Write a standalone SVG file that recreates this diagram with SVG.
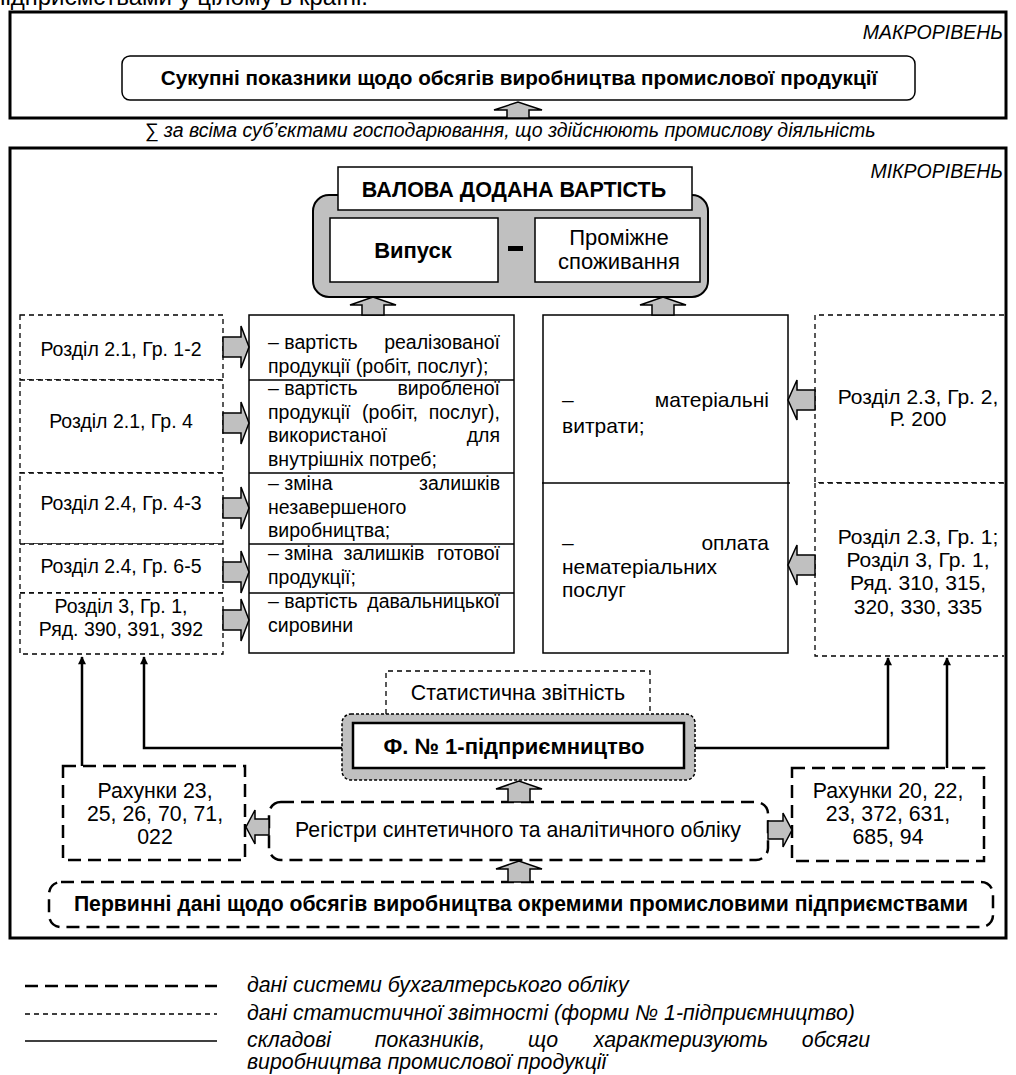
<svg xmlns="http://www.w3.org/2000/svg" width="1016" height="1075" viewBox="0 0 1016 1075">
<defs>
<style>
text{font-family:"Liberation Sans",Arial,sans-serif;font-size:19.5px;fill:#000}
.b{font-weight:bold}
.i{font-style:italic}
.c{text-anchor:middle}
.e{text-anchor:end}
.m{font-size:21px}
.l{font-size:21.3px}
.frame{fill:none;stroke:#000;stroke-width:3}
.box{fill:#fff;stroke:#000;stroke-width:1.5}
.stat{fill:#fff;stroke:#000;stroke-width:1.3;stroke-dasharray:5 4}
.statl{fill:none;stroke:#000;stroke-width:1.3;stroke-dasharray:5 4}
.acc{fill:#fff;stroke:#000;stroke-width:2.5;stroke-dasharray:13 7}
.garr{fill:#c0c0c0;stroke:#000;stroke-width:1.5}
.conn{fill:none;stroke:#000;stroke-width:2.5}
.ln{fill:none;stroke:#000;stroke-width:1.5}
</style>
<marker id="ah" viewBox="0 0 10 10" refX="9" refY="5" markerWidth="3.6" markerHeight="3.2" orient="auto" markerUnits="strokeWidth"><path d="M0,0 L10,5 L0,10 Z"/></marker>
</defs>

<text x="368" y="5" class="e" style="font-size:24px">підприємствами у цілому в країні.</text>

<g id="macro">
<rect class="frame" x="10" y="12" width="996" height="106"/>
<text x="1003" y="39" class="e i">МАКРОРІВЕНЬ</text>
</g>
<g id="total">
<rect class="box" x="122" y="56" width="793" height="44" rx="8"/>
<text x="519" y="85" class="c b" style="font-size:20.7px">Сукупні показники щодо обсягів виробництва промислової продукції</text>
</g>
<text x="510" y="137" class="c i">∑ за всіма суб’єктами господарювання, що здійснюють промислову діяльність</text>

<g id="micro">
<rect class="frame" x="10" y="148" width="996" height="790"/>
<text x="1003" y="178" class="e i">МІКРОРІВЕНЬ</text>
</g>

<g id="gva">
<rect x="313" y="195" width="395" height="102" rx="16" fill="#c0c0c0" stroke="#000" stroke-width="2"/>
<rect class="box" x="338" y="167" width="354" height="43"/>
<text x="514" y="197" class="c b" style="font-size:21.5px">ВАЛОВА ДОДАНА ВАРТІСТЬ</text>
</g>
<g id="output">
<rect class="box" x="330" y="218" width="168" height="64"/>
<text x="413" y="258" class="c b" style="font-size:22px">Випуск</text>
</g>
<g id="minus"><rect x="508" y="246" width="15" height="5" fill="#000"/></g>
<g id="intermediate">
<rect class="box" x="535" y="218" width="165" height="64"/>
<text x="619" y="245" class="c" style="font-size:22px">Проміжне</text>
<text x="619" y="269" class="c" style="font-size:22px">споживання</text>
</g>

<g id="left-sources">
<g id="ls1"><rect class="stat" x="20" y="315" width="203" height="65"/><text x="121" y="356" class="c">Розділ 2.1, Гр. 1-2</text></g>
<g id="ls2"><rect class="stat" x="20" y="380" width="203" height="93"/><text x="121" y="428" class="c">Розділ 2.1, Гр. 4</text></g>
<g id="ls3"><rect class="stat" x="20" y="473" width="203" height="71"/><text x="121" y="510" class="c">Розділ 2.4, Гр. 4-3</text></g>
<g id="ls4"><rect class="stat" x="20" y="544" width="203" height="49"/><text x="121" y="573" class="c">Розділ 2.4, Гр. 6-5</text></g>
<g id="ls5"><rect class="stat" x="20" y="593" width="203" height="61"/><text x="121" y="613" class="c">Розділ 3, Гр. 1,</text><text x="121" y="636" class="c">Ряд. 390, 391, 392</text></g>
</g>

<g id="output-components">
<rect class="box" x="249" y="315" width="265" height="338"/>
<line class="ln" x1="249" y1="380" x2="514" y2="380"/>
<line class="ln" x1="249" y1="473" x2="514" y2="473"/>
<line class="ln" x1="249" y1="544" x2="514" y2="544"/>
<line class="ln" x1="249" y1="593" x2="514" y2="593"/>
<g id="oc1"><text x="268" y="349">– вартість</text><text x="500" y="349" class="e">реалізованої</text><text x="268" y="373">продукції (робіт, послуг);</text></g>
<g id="oc2"><text x="268" y="395">– вартість</text><text x="500" y="395" class="e">виробленої</text>
<text x="268" y="418.5">продукції</text><text x="390" y="418.5" class="c">(робіт,</text><text x="500" y="418.5" class="e">послуг),</text>
<text x="268" y="442">використаної</text><text x="500" y="442" class="e">для</text>
<text x="268" y="465.5">внутрішніх потреб;</text></g>
<g id="oc3"><text x="268" y="490">– зміна</text><text x="500" y="490" class="e">залишків</text><text x="268" y="513.5">незавершеного</text><text x="268" y="537">виробництва;</text></g>
<g id="oc4"><text x="268" y="560">– зміна</text><text x="384" y="560" class="c">залишків</text><text x="500" y="560" class="e">готової</text><text x="268" y="584">продукції;</text></g>
<g id="oc5"><text x="268" y="608">– вартість</text><text x="500" y="608" class="e">давальницької</text><text x="268" y="632">сировини</text></g>
</g>

<g id="consumption-components">
<rect class="box" x="543" y="315" width="245" height="338"/>
<line class="ln" x1="542" y1="483" x2="790" y2="483"/>
<g id="cc1"><text x="562" y="407" class="m">–</text><text x="769" y="407" class="e m">матеріальні</text><text x="562" y="433" class="m">витрати;</text></g>
<g id="cc2"><text x="562" y="550" class="m">–</text><text x="769" y="550" class="e m">оплата</text><text x="562" y="574" class="m">нематеріальних</text><text x="562" y="597" class="m">послуг</text></g>
</g>

<g id="right-sources">
<g id="rs1"><path class="stat" d="M1004,315 H815 V483 H1004"/><text x="918" y="404" class="c m">Розділ 2.3, Гр. 2,</text><text x="918" y="426" class="c m">Р. 200</text></g>
<g id="rs2"><path class="stat" d="M1004,483 H815 V656 H1004"/><text x="918" y="544" class="c m">Розділ 2.3, Гр. 1;</text><text x="918" y="567" class="c m">Розділ 3, Гр. 1,</text><text x="918" y="590" class="c m">Ряд. 310, 315,</text><text x="918" y="614" class="c m">320, 330, 335</text></g>
</g>

<g id="stat-report">
<rect x="386" y="672" width="264" height="40" fill="#fff"/>
<path class="statl" d="M386,714 V671 H650 V714"/>
<text x="518" y="700" class="c l">Статистична звітність</text>
</g>
<g id="form1">
<rect x="342" y="714" width="353" height="66" rx="9" fill="#c0c0c0" stroke="#000" stroke-width="1.5" stroke-dasharray="3 2"/>
<rect x="353" y="723" width="331" height="45" fill="#fff" stroke="#000" stroke-width="2.5"/>
<text x="514" y="754" class="c b" style="font-size:22px">Ф. № 1-підприємництво</text>
</g>
<g id="acc-left">
<rect class="acc" x="63" y="766" width="182" height="94"/>
<text x="155" y="798" class="c l">Рахунки 23,</text><text x="155" y="821" class="c l">25, 26, 70, 71,</text><text x="155" y="844" class="c l">022</text>
</g>
<g id="registers">
<rect class="acc" x="269" y="802" width="499" height="58" rx="12"/>
<text x="518" y="837" class="c l">Регістри синтетичного та аналітичного обліку</text>
</g>
<g id="acc-right">
<rect class="acc" x="792" y="768" width="192" height="93"/>
<text x="888" y="798" class="c l">Рахунки 20, 22,</text><text x="888" y="821" class="c l">23, 372, 631,</text><text x="888" y="844" class="c l">685, 94</text>
</g>
<g id="primary">
<rect class="acc" x="49" y="882" width="944" height="45" rx="12"/>
<text x="521" y="911" class="c b" style="font-size:21.2px">Первинні дані щодо обсягів виробництва окремими промисловими підприємствами</text>
</g>

<g id="connectors">
<path class="garr" d="M507,118 V110 H494 L518,102 L542,110 H529 V118 Z"/>
<path class="garr" d="M362,315 V305 H350 L373,297 L396,305 H384 V315 Z"/>
<path class="garr" d="M652,315 V305 H640 L663,297 L686,305 H674 V315 Z"/>
<path class="garr" d="M223,337 H241 V326 L249,347 L241,368 V357 H223 Z"/>
<path class="garr" d="M223,413 H241 V402 L249,423 L241,444 V433 H223 Z"/>
<path class="garr" d="M223,498 H241 V487 L249,508 L241,529 V518 H223 Z"/>
<path class="garr" d="M223,562 H241 V551 L249,572 L241,593 V582 H223 Z"/>
<path class="garr" d="M223,610 H241 V599 L249,620 L241,641 V630 H223 Z"/>
<path class="garr" d="M815,390 H797 V380 L788,400 L797,420 V410 H815 Z"/>
<path class="garr" d="M815,555 H797 V545 L788,565 L797,585 V575 H815 Z"/>
<path class="garr" d="M508,802 V789 H496 L519,781 L542,789 H530 V802 Z"/>
<path class="garr" d="M508,882 V869 H496 L519,861 L542,869 H530 V882 Z"/>
<path class="garr" d="M269,819 H255 V810 L246,827 L255,844 V835 H269 Z"/>
<path class="garr" d="M768,821 H783 V813 L792,830 L783,847 V839 H768 Z"/>
<path class="conn" d="M82,766 V657" marker-end="url(#ah)"/>
<path class="conn" d="M342,748 H144 V657" marker-end="url(#ah)"/>
<path class="conn" d="M695,748 H888 V658" marker-end="url(#ah)"/>
<path class="conn" d="M947,768 V658" marker-end="url(#ah)"/>
</g>

<g id="legend">
<line x1="25" y1="986" x2="217" y2="986" stroke="#000" stroke-width="2.5" stroke-dasharray="13 7"/>
<line x1="25" y1="1014" x2="217" y2="1014" stroke="#000" stroke-width="1.3" stroke-dasharray="5 4"/>
<line x1="25" y1="1041" x2="217" y2="1041" stroke="#000" stroke-width="1.5"/>
<text x="247" y="992" class="i l">дані системи бухгалтерського обліку</text>
<text x="247" y="1020" class="i l">дані статистичної звітності (форми № 1-підприємництво)</text>
<text x="247" y="1047" class="i l">складові</text>
<text x="430" y="1047" class="i c l">показників,</text>
<text x="543" y="1047" class="i c l">що</text>
<text x="681" y="1047" class="i c l">характеризують</text>
<text x="870" y="1047" class="i e l">обсяги</text>
<text x="247" y="1069" class="i l">виробництва промислової продукції</text>
</g>
</svg>
